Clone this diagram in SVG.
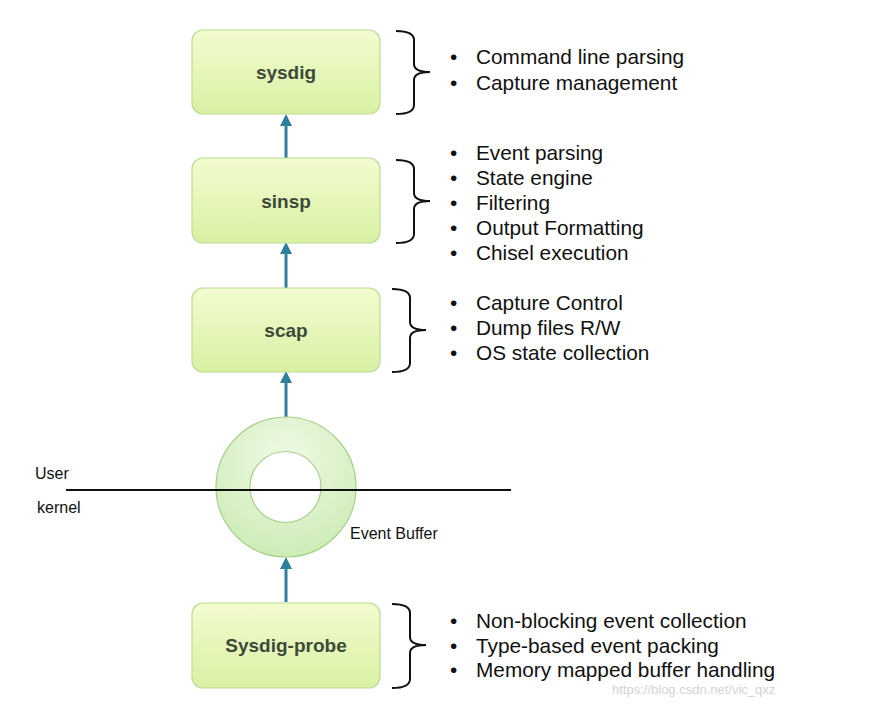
<svg xmlns="http://www.w3.org/2000/svg" width="882" height="718" viewBox="0 0 882 718">
<style>
.box{fill:url(#g);stroke:#bcdc94;stroke-width:1.2}
.bt{font-family:"Liberation Sans",Arial,sans-serif;font-weight:bold;font-size:19px;fill:#3c4a3a;text-anchor:middle}
.t{font-family:"Liberation Sans",Arial,sans-serif;font-size:20.8px;fill:#111}
.s{font-family:"Liberation Sans",Arial,sans-serif;font-size:16px;fill:#111}
.br{fill:none;stroke:#111;stroke-width:2}
.ar{stroke:#2f7f9c;stroke-width:3;fill:none;marker-end:url(#ah)}
</style>
<defs>
<linearGradient id="g" x1="0" y1="0" x2="0" y2="1">
<stop offset="0" stop-color="#f3fccf"/>
<stop offset="1" stop-color="#d9f0a4"/>
</linearGradient>
<radialGradient id="rg" cx="0.5" cy="0.3" r="0.8">
<stop offset="0" stop-color="#f0fae6"/>
<stop offset="1" stop-color="#c8eab0"/>
</radialGradient>
<marker id="ah" markerWidth="4" markerHeight="4" refX="2" refY="2" orient="auto" markerUnits="strokeWidth">
<path d="M0,0 L4,2 L0,4 z" fill="#2f7f9c"/>
</marker>
</defs>
<rect width="882" height="718" fill="#fff"/>
<g id="connectors">
<line class="ar" x1="286" y1="158" x2="286" y2="120"/>
<line class="ar" x1="286" y1="288" x2="286" y2="248"/>
<line class="ar" x1="286" y1="417" x2="286" y2="377"/>
<line class="ar" x1="286" y1="602" x2="286" y2="563"/>
</g>
<g id="sysdig">
<rect class="box" x="192" y="30" width="188" height="84" rx="11"/>
<text class="bt" x="286" y="79">sysdig</text>
<path class="br" d="M396,31 Q414,31 414,40 L414,64 Q414,72 430,72 Q414,72 414,80 L414,105 Q414,114 396,114"/>
<text class="t" x="450" y="64">•</text><text class="t" x="476" y="64">Command line parsing</text>
<text class="t" x="450" y="90">•</text><text class="t" x="476" y="90">Capture management</text>
</g>
<g id="sinsp">
<rect class="box" x="192" y="158" width="188" height="85" rx="11"/>
<text class="bt" x="286" y="208">sinsp</text>
<path class="br" d="M396,160 Q414,160 414,169 L414,193 Q414,201 430,201 Q414,201 414,209 L414,234 Q414,243 396,243"/>
<text class="t" x="450" y="160">•</text><text class="t" x="476" y="160">Event parsing</text>
<text class="t" x="450" y="185">•</text><text class="t" x="476" y="185">State engine</text>
<text class="t" x="450" y="210">•</text><text class="t" x="476" y="210">Filtering</text>
<text class="t" x="450" y="235">•</text><text class="t" x="476" y="235">Output Formatting</text>
<text class="t" x="450" y="260">•</text><text class="t" x="476" y="260">Chisel execution</text>
</g>
<g id="scap">
<rect class="box" x="192" y="288" width="188" height="84" rx="11"/>
<text class="bt" x="286" y="337">scap</text>
<path class="br" d="M392,289 Q410,289 410,298 L410,322 Q410,330 426,330 Q410,330 410,338 L410,363 Q410,372 392,372"/>
<text class="t" x="450" y="310">•</text><text class="t" x="476" y="310">Capture Control</text>
<text class="t" x="450" y="335">•</text><text class="t" x="476" y="335">Dump files R/W</text>
<text class="t" x="450" y="360">•</text><text class="t" x="476" y="360">OS state collection</text>
</g>
<g id="event-buffer">
<path d="M356,487 A70,70 0 1 1 216,487 A70,70 0 1 1 356,487 Z M321,487 A35.5,35.5 0 1 0 250,487 A35.5,35.5 0 1 0 321,487 Z" fill="url(#rg)" fill-rule="evenodd" stroke="#a8cf88" stroke-width="1.2"/>
<text class="s" x="350" y="539">Event Buffer</text>
</g>
<g id="boundary">
<line x1="66" y1="490" x2="511" y2="490" stroke="#111" stroke-width="2"/>
<text class="s" x="35" y="479">User</text>
<text class="s" x="37" y="513">kernel</text>
</g>
<g id="sysdig-probe">
<rect class="box" x="192" y="603" width="188" height="85" rx="11"/>
<text class="bt" x="286" y="652">Sysdig-probe</text>
<path class="br" d="M392,604 Q410,604 410,613 L410,637 Q410,645 426,645 Q410,645 410,653 L410,679 Q410,688 392,688"/>
<text class="t" x="450" y="628">•</text><text class="t" x="476" y="628">Non-blocking event collection</text>
<text class="t" x="450" y="653">•</text><text class="t" x="476" y="653">Type-based event packing</text>
<text class="t" x="450" y="677">•</text><text class="t" x="476" y="677">Memory mapped buffer handling</text>
</g>
<text x="612" y="694" font-family="Liberation Sans,Arial,sans-serif" font-size="13" fill="#d4d4d4">https://blog.csdn.net/vic_qxz</text>
</svg>
